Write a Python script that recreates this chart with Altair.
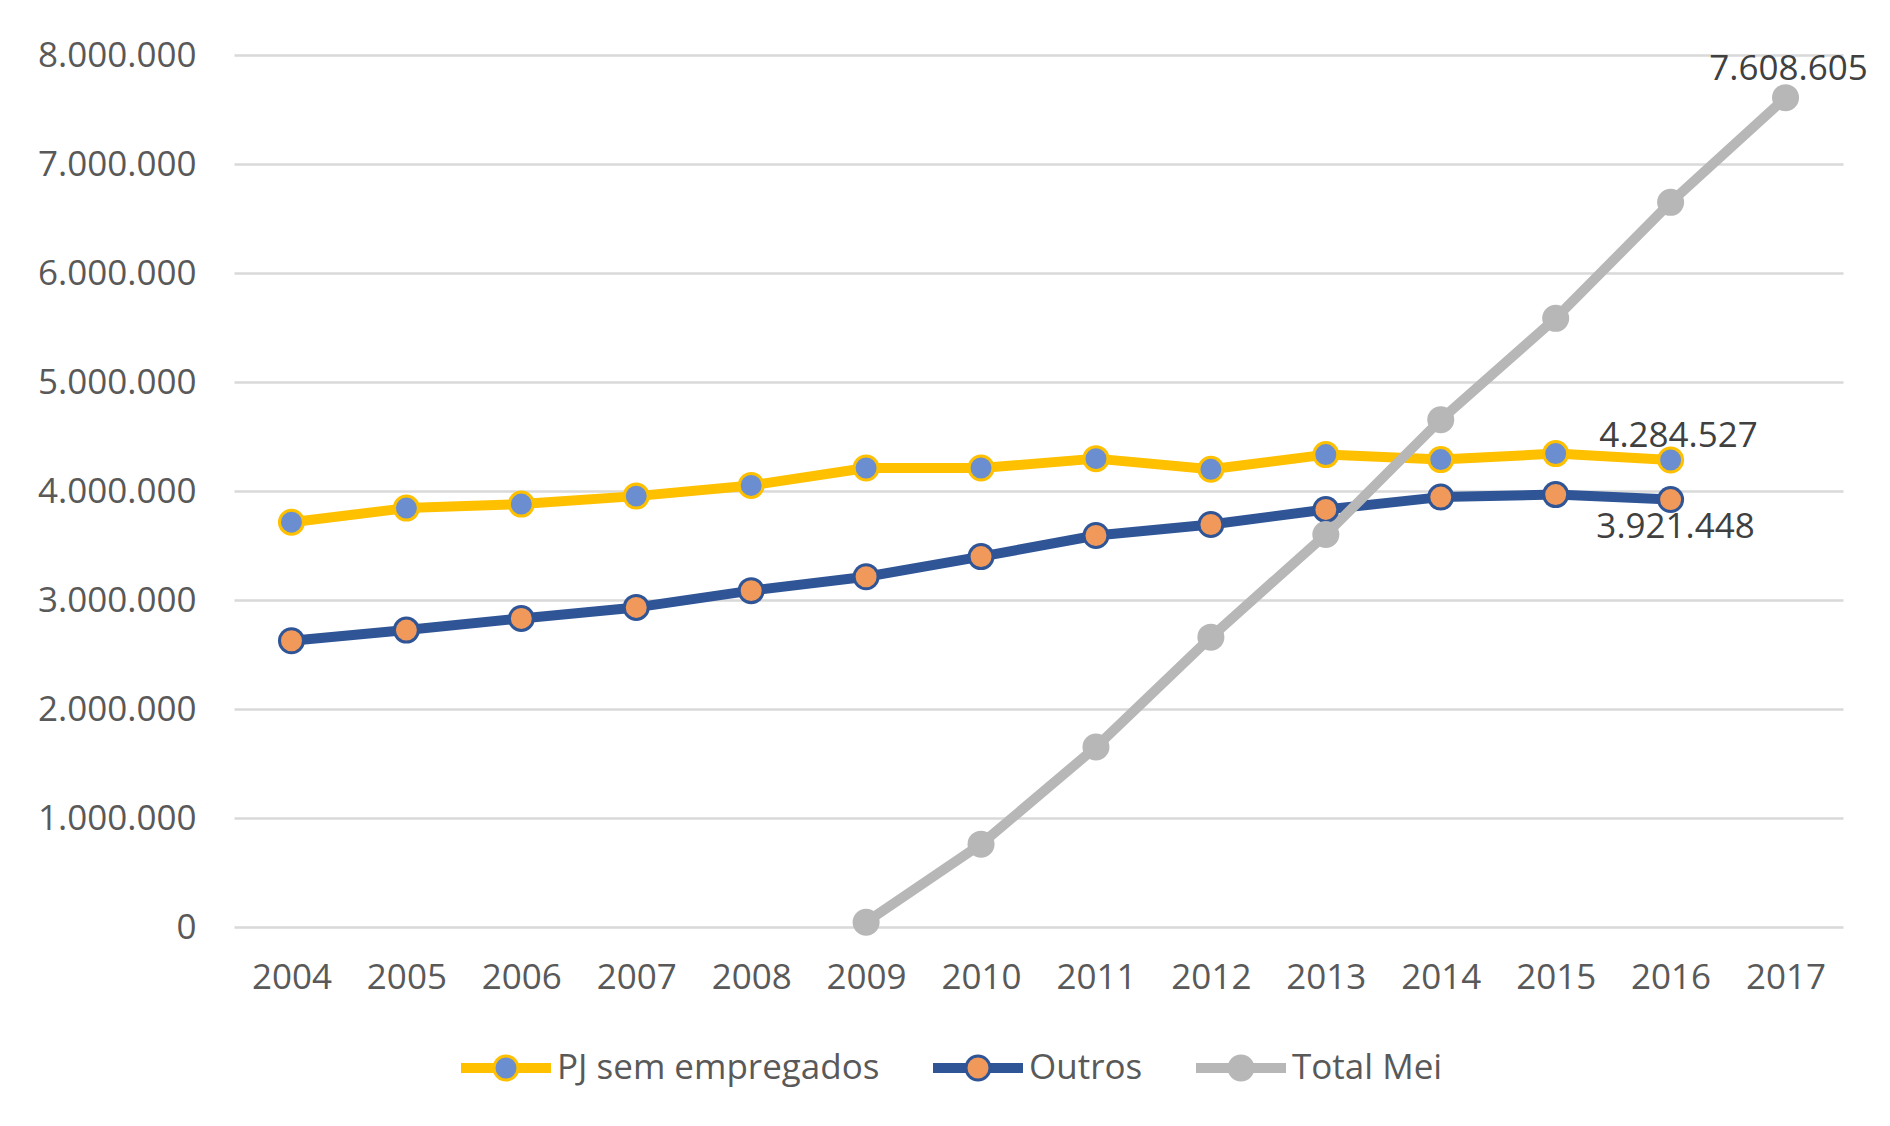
import altair as alt
import pandas as pd

years = ["2004", "2005", "2006", "2007", "2008", "2009", "2010",
         "2011", "2012", "2013", "2014", "2015", "2016", "2017"]
series_names = ["PJ sem empregados", "Outros", "Total Mei"]
pj_sem_empregados = [3714000, 3843000, 3880000, 3953000, 4051000, 4211000, 4211000,
                     4297000, 4199000, 4334000, 4288000, 4343000, 4284527, None]
outros = [2626000, 2724000, 2831000, 2932000, 3086000, 3213000, 3398000,
          3592000, 3693000, 3831000, 3944000, 3967000, 3921448, None]
total_mei = [None, None, None, None, None, 44000, 760000,
             1651000, 2659000, 3601000, 4654000, 5584000, 6648000, 7608605]
y_ticks = [0, 1000000, 2000000, 3000000, 4000000, 5000000, 6000000, 7000000, 8000000]

line_colors = ["#FFC000", "#2F5597", "#B7B7B7"]
inner_colors = ["#6A8ED0", "#F0995A", "#B7B7B7"]

rows = []
for name, vals in zip(series_names, [pj_sem_empregados, outros, total_mei]):
    for ano, v in zip(years, vals):
        if v is not None:
            rows.append({"ano": ano, "serie": name, "valor": v})
df = pd.DataFrame(rows)
df["serie_r"] = df["serie"]
df["serie_i"] = df["serie"]

# last-point labels
lab_rows = []
for name, vals in zip(series_names, [pj_sem_empregados, outros, total_mei]):
    idx = max(i for i, v in enumerate(vals) if v is not None)
    v = vals[idx]
    lab_rows.append({"ano": years[idx], "serie": name, "valor": v,
                     "texto": f"{v:,}".replace(",", ".")})
labels = pd.DataFrame(lab_rows)

FONT = "Open Sans"
AXIS_COLOR = "#595959"
LINE_W = 10

x = alt.X("ano:O", sort=years, scale=alt.Scale(type="point", padding=0.5),
          axis=alt.Axis(title=None, labelAngle=0, domain=False, ticks=False, grid=False,
                        labelFont=FONT, labelFontSize=35, labelColor=AXIS_COLOR,
                        labelPadding=33))
y = alt.Y("valor:Q", scale=alt.Scale(domain=[y_ticks[0], y_ticks[-1]], nice=False),
          axis=alt.Axis(title=None, values=y_ticks, domain=False, ticks=False, grid=True,
                        gridColor="#D9D9D9", gridWidth=2.5,
                        labelExpr="replace(format(datum.value, ',d'), /,/g, '.')",
                        labelFont=FONT, labelFontSize=35, labelColor=AXIS_COLOR,
                        labelPadding=38))

# --- legend: three overlaid legends (line, ring, inner disk) with identical layout ---
# every symbol: sqrt(size) + strokeWidth == 100, and identical bounds
# (bounds = path extent + 2*strokeWidth): half-width 65, half-height 35
LX, LY = 222, 963
HW, HH = 65.0, 35.0
leg_common = dict(orient="none", legendX=LX, legendY=LY, direction="horizontal",
                  columns=3, title=None, labelFont=FONT, labelLimit=0,
                  labelFontSize=35, labelColor=AXIS_COLOR, labelOffset=1,
                  columnPadding=33, padding=0)


def circ(r):
    return f"M{r:.4f},0A{r:.4f},{r:.4f},0,1,1,{-r:.4f},0A{r:.4f},{r:.4f},0,1,1,{r:.4f},0Z"


def extent(scale, sw):
    ex = (HW - 2 * sw) / scale
    ey = (HH - 2 * sw) / scale
    return f"M{-ex:.4f},0M{ex:.4f},0M0,{-ey:.4f}M0,{ey:.4f}"


# A: line, stroke 10 -> sqrt(size)=90, scale 45
sA = 45.0
legA = alt.Legend(symbolType=extent(sA, LINE_W) + "M-1,0H1", symbolSize=90 ** 2,
                  symbolStrokeWidth=LINE_W, **leg_common)
# C: ring disk, stroke 0 -> sqrt(size)=100, scale 50, radius 13.5
sC = 50.0
legC = alt.Legend(symbolType=extent(sC, 0) + circ(13.5 / sC), symbolSize=100 ** 2,
                  symbolStrokeWidth=0, labelOpacity=0, **leg_common)
# B: inner disk via thick stroke 10.5 -> sqrt(size)=89.5, scale 44.75
sB = 44.75
legB = alt.Legend(symbolType=extent(sB, 10.5) + circ(5.25 / sB), symbolSize=89.5 ** 2,
                  symbolStrokeWidth=10.5, symbolFillColor="transparent",
                  labelOpacity=0, **leg_common)

base = alt.Chart(df)

lines = base.mark_line(strokeWidth=LINE_W, strokeJoin="round", strokeCap="round").encode(
    x=x, y=y,
    color=alt.Color("serie:N", sort=series_names,
                    scale=alt.Scale(range=line_colors), legend=legA),
)
rings = base.mark_point(filled=True, size=729, opacity=1, strokeWidth=0).encode(
    x=x, y=y,
    fill=alt.Fill("serie_r:N", sort=series_names,
                  scale=alt.Scale(range=line_colors), legend=legC),
)
inner = base.mark_point(filled=False, size=110, opacity=1, strokeWidth=10.5).encode(
    x=x, y=y,
    stroke=alt.Stroke("serie_i:N", sort=series_names,
                      scale=alt.Scale(range=inner_colors), legend=legB),
)

lab_base = alt.Chart(labels)
txt_style = dict(font=FONT, fontSize=35, color="#404040", baseline="middle", align="center")
t_pj = lab_base.transform_filter(alt.datum.serie == series_names[0]).mark_text(
    dx=8, dy=-24, **txt_style).encode(x=x, y=y, text="texto:N")
t_out = lab_base.transform_filter(alt.datum.serie == series_names[1]).mark_text(
    dx=5, dy=27, **txt_style).encode(x=x, y=y, text="texto:N")
t_mei = lab_base.transform_filter(alt.datum.serie == series_names[2]).mark_text(
    dx=3, dy=-29, **txt_style).encode(x=x, y=y, text="texto:N")

chart = alt.layer(lines, rings, inner, t_pj, t_out, t_mei).properties(
    width=1609, height=872,
    padding={"left": 226, "top": 47, "right": 30, "bottom": 170},
    autosize=alt.AutoSizeParams(type="none"),
).configure_view(strokeWidth=0)

chart.save("out.html", embed_options={"renderer": "svg", "actions": False})
